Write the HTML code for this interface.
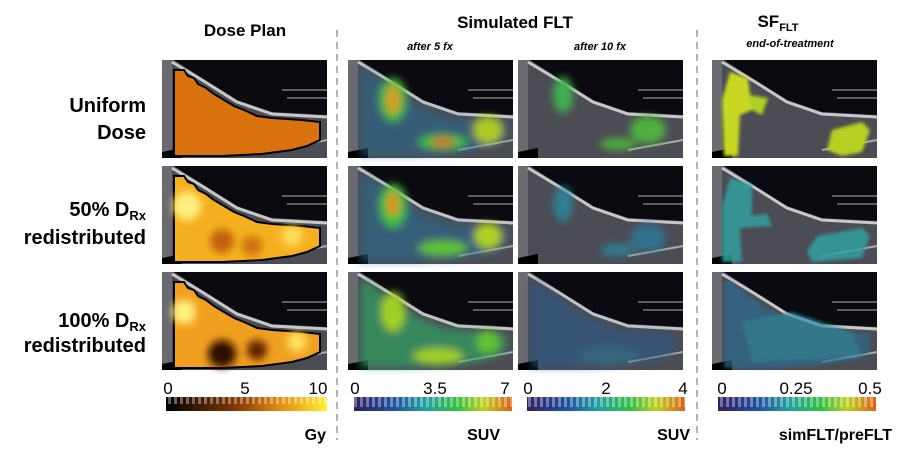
<!DOCTYPE html>
<html><head><meta charset="utf-8"><style>
body{margin:0;background:#fff;}
svg{display:block;font-family:"Liberation Sans",Arial,sans-serif;}
</style></head><body>
<svg width="903" height="450" viewBox="0 0 903 450" xmlns="http://www.w3.org/2000/svg">
<defs>
 <linearGradient id="gy" x1="0" x2="1"><stop offset="0" stop-color="#000"/><stop offset="0.45" stop-color="#8a3a05"/><stop offset="0.7" stop-color="#e08a10"/><stop offset="1" stop-color="#ffee30"/></linearGradient>
 <linearGradient id="jet" x1="0" x2="1"><stop offset="0" stop-color="#302060"/><stop offset="0.25" stop-color="#2050a0"/><stop offset="0.45" stop-color="#20a0a0"/><stop offset="0.65" stop-color="#30c040"/><stop offset="0.82" stop-color="#c0d020"/><stop offset="1" stop-color="#e06010"/></linearGradient>
 <pattern id="chk" width="6" height="8" patternUnits="userSpaceOnUse"><rect width="3" height="8" fill="rgba(255,255,255,0.35)"/></pattern>
 <filter id="bl"><feGaussianBlur stdDeviation="4"/></filter>
 <filter id="bl2"><feGaussianBlur stdDeviation="1.5"/></filter>
 <g id="ct">
  <rect width="165" height="98" fill="#0a0a10"/>
  <path d="M0,0 L12,0 L40,18 L75,40 L110,52 L165,55 L165,98 L0,98Z" fill="#4c4c54"/>
  <path d="M0,0 L10,0 L10,98 L0,98Z" fill="#6a6a70"/>
  <path d="M10,2 L40,20 L75,42 L110,54 L165,57" stroke="#c8c8c8" stroke-width="3" fill="none"/>
  <path d="M120,30 L165,30 M125,38 L165,38" stroke="#777" stroke-width="1.5"/>
  <path d="M0,92 L20,88 L20,98 L0,98Z" fill="#000"/>
  <path d="M110,90 L165,80" stroke="#aaa" stroke-width="2"/>
 </g>
 <path id="tum" d="M12,10 L22,10 L26,16 L32,18 L36,24 L44,28 L52,34 L62,40 L72,46 L82,50 L95,56 L110,58 L140,60 L158,62 L158,80 L145,86 L130,90 L100,94 L60,96 L12,96Z"/>
</defs>

<text x="245" y="36" font-size="17" font-weight="bold" text-anchor="middle">Dose Plan</text>
<text x="515" y="28" font-size="17" font-weight="bold" text-anchor="middle">Simulated FLT</text>
<text x="430" y="50" font-size="11" font-style="italic" font-weight="bold" text-anchor="middle">after 5 fx</text>
<text x="600" y="50" font-size="11" font-style="italic" font-weight="bold" text-anchor="middle">after 10 fx</text>
<text x="778" y="27" font-size="17" font-weight="bold" text-anchor="middle">SF<tspan font-size="11" dy="4">FLT</tspan></text>
<text x="790" y="47" font-size="11" font-style="italic" font-weight="bold" text-anchor="middle">end-of-treatment</text>

<g font-size="20" font-weight="bold" text-anchor="end">
<text x="146" y="112">Uniform</text><text x="146" y="139">Dose</text>
<text x="146" y="216">50% D<tspan font-size="13" dy="4">Rx</tspan></text><text x="146" y="244" dy="0">redistributed</text>
<text x="146" y="327">100% D<tspan font-size="13" dy="4">Rx</tspan></text><text x="146" y="352">redistributed</text>
</g>

<line x1="337" y1="30" x2="337" y2="440" stroke="#999" stroke-width="1.5" stroke-dasharray="7,5"/>
<line x1="697" y1="30" x2="697" y2="440" stroke="#999" stroke-width="1.5" stroke-dasharray="7,5"/>

<g transform="translate(162,60)"><use href="#ct"/><use href="#tum" fill="#d9720f" stroke="#000" stroke-width="2"/></g>
<g transform="translate(162,166)"><use href="#ct"/><use href="#tum" fill="#f5b020" stroke="#000" stroke-width="2"/>
 <g filter="url(#bl)"><circle cx="25" cy="40" r="14" fill="#fff080"/><circle cx="60" cy="75" r="12" fill="#c06010"/><circle cx="90" cy="80" r="10" fill="#d07010"/><circle cx="130" cy="70" r="10" fill="#ffe060"/></g></g>
<g transform="translate(162,272)"><use href="#ct"/><use href="#tum" fill="#f0a020" stroke="#000" stroke-width="2"/>
 <g filter="url(#bl)"><circle cx="22" cy="40" r="12" fill="#fff080"/><circle cx="60" cy="82" r="14" fill="#301000"/><circle cx="95" cy="78" r="10" fill="#602000"/><circle cx="135" cy="70" r="10" fill="#ffe060"/></g></g>

<g transform="translate(348,60)"><use href="#ct"/><g filter="url(#bl)" opacity="0.95">
 <use href="#tum" fill="#2a6a90" opacity="0.6"/><ellipse cx="45" cy="40" rx="14" ry="22" fill="#40c040"/><ellipse cx="45" cy="40" rx="7" ry="14" fill="#e0a020"/><ellipse cx="95" cy="82" rx="25" ry="8" fill="#40c040"/><ellipse cx="95" cy="82" rx="12" ry="4" fill="#e06020"/><ellipse cx="140" cy="70" rx="15" ry="14" fill="#b0d020"/></g></g>
<g transform="translate(348,166)"><use href="#ct"/><g filter="url(#bl)">
 <use href="#tum" fill="#2a6a90" opacity="0.6"/><ellipse cx="45" cy="40" rx="14" ry="22" fill="#40c040"/><ellipse cx="45" cy="38" rx="6" ry="12" fill="#e09020"/><ellipse cx="95" cy="82" rx="25" ry="8" fill="#60c030"/><ellipse cx="140" cy="70" rx="14" ry="13" fill="#b0d020"/></g></g>
<g transform="translate(348,272)"><use href="#ct"/><g filter="url(#bl)">
 <use href="#tum" fill="#30a060" opacity="0.7"/><ellipse cx="45" cy="40" rx="12" ry="20" fill="#a0d020"/><ellipse cx="90" cy="84" rx="25" ry="8" fill="#a0d020"/><ellipse cx="140" cy="70" rx="12" ry="12" fill="#60c030"/></g></g>

<g transform="translate(518,60)"><use href="#ct"/><g filter="url(#bl)">
 <ellipse cx="45" cy="35" rx="10" ry="18" fill="#40b050"/><ellipse cx="130" cy="70" rx="18" ry="14" fill="#50b040"/><ellipse cx="100" cy="84" rx="18" ry="6" fill="#50b040"/></g></g>
<g transform="translate(518,166)"><use href="#ct"/><g filter="url(#bl)" opacity="0.8">
 <ellipse cx="45" cy="38" rx="10" ry="18" fill="#2a8aa0"/><ellipse cx="130" cy="72" rx="18" ry="14" fill="#2a7a9a"/><ellipse cx="100" cy="84" rx="18" ry="6" fill="#2a8aa0"/></g></g>
<g transform="translate(518,272)"><use href="#ct"/><g filter="url(#bl)" opacity="0.6">
 <use href="#tum" fill="#2a5a8a"/><ellipse cx="90" cy="84" rx="30" ry="8" fill="#2a7a9a"/></g></g>

<g transform="translate(712,60)"><use href="#ct"/><g filter="url(#bl2)">
 <path d="M18,12 L36,18 L40,50 L28,55 L26,96 L12,96 L10,40Z" fill="#c8d820"/><path d="M36,35 L56,38 L50,55 L40,50Z" fill="#b0d020"/><path d="M120,70 L150,62 L158,70 L150,92 L130,96 L115,90Z" fill="#b8d020"/></g></g>
<g transform="translate(712,166)"><use href="#ct"/><g filter="url(#bl2)" opacity="0.85">
 <path d="M18,12 L40,18 L40,50 L55,48 L60,60 L28,62 L30,96 L10,96 L10,40Z" fill="#30a0a0"/><path d="M105,70 L150,62 L158,70 L150,92 L100,96 L95,85Z" fill="#30a0a0"/></g></g>
<g transform="translate(712,272)"><use href="#ct"/><g filter="url(#bl2)" opacity="0.7">
 <use href="#tum" fill="#2a6a90"/><path d="M30,50 L80,40 L140,60 L150,85 L40,90Z" fill="#2a8aa0"/></g></g>

<g font-size="17" text-anchor="middle" fill="#000">
<rect x="166" y="397" width="161" height="14" fill="url(#gy)"/><rect x="166" y="397" width="161" height="7" fill="url(#chk)"/>
<text x="168" y="394">0</text><text x="245" y="394">5</text><text x="318" y="394">10</text>
<rect x="354" y="397" width="158" height="14" fill="url(#jet)"/><rect x="354" y="397" width="158" height="10" fill="url(#chk)"/>
<text x="355" y="394">0</text><text x="435" y="394">3.5</text><text x="505" y="394">7</text>
<rect x="527" y="397" width="158" height="14" fill="url(#jet)"/><rect x="527" y="397" width="158" height="10" fill="url(#chk)"/>
<text x="528" y="394">0</text><text x="606" y="394">2</text><text x="683" y="394">4</text>
<rect x="718" y="397" width="158" height="14" fill="url(#jet)"/><rect x="718" y="397" width="158" height="10" fill="url(#chk)"/>
<text x="722" y="394">0</text><text x="796" y="394">0.25</text><text x="870" y="394">0.5</text>
</g>
<g font-size="16" font-weight="bold" text-anchor="end">
<text x="326" y="440">Gy</text><text x="500" y="440">SUV</text><text x="690" y="440">SUV</text><text x="892" y="440">simFLT/preFLT</text>
</g>
</svg>
</body></html>
